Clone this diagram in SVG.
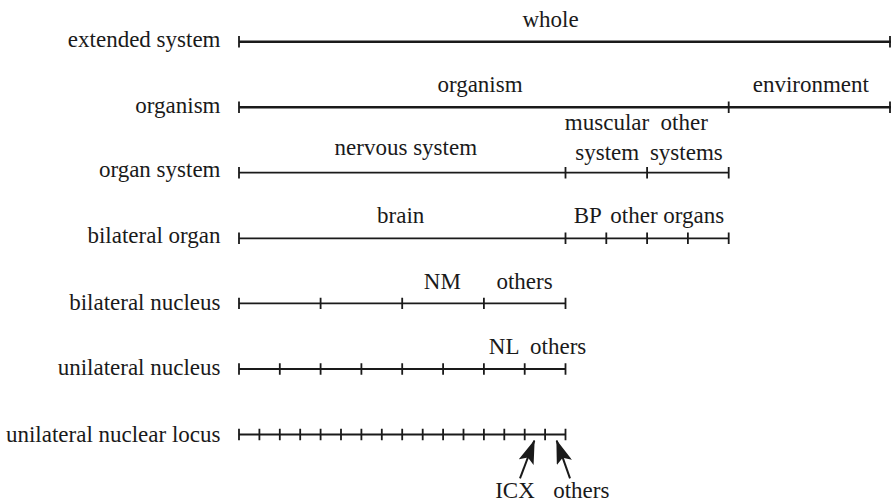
<svg xmlns="http://www.w3.org/2000/svg" width="891" height="503" viewBox="0 0 891 503">
<style>
text{font-family:"Liberation Serif","Times New Roman",serif;font-size:23px;fill:#1a1a1a}
.lab{text-anchor:end}
.c{text-anchor:middle}
.thick{stroke:#1a1a1a;stroke-width:2.4;fill:none}
.thin{stroke:#1a1a1a;stroke-width:1.8;fill:none}
.tk{stroke:#1a1a1a;stroke-width:1.8;fill:none}
.arr{stroke:#1a1a1a;stroke-width:2;fill:none}
</style>
<defs>
<marker id="ah" markerUnits="userSpaceOnUse" viewBox="0 0 24 16" refX="23" refY="8" markerWidth="24" markerHeight="16" orient="auto">
<path d="M0,0 L24,8 L0,16 L5,8 z" fill="#1a1a1a"/>
</marker>
</defs>
<rect width="891" height="503" fill="#fff"/>

<g id="row-extended-system">
<text class="lab" x="220.5" y="46.7">extended system</text>
<path class="thick" d="M239,41.7 H891"/>
<path class="tk" d="M239,36 V47.4 M890,36 V47.4"/>
<text class="c" x="550.5" y="27.3">whole</text>
</g>

<g id="row-organism">
<text class="lab" x="220.5" y="112.5">organism</text>
<path class="thick" d="M239,107.3 H891"/>
<path class="tk" d="M239,101.6 V113 M728.7,101.6 V113 M890,101.6 V113"/>
<text class="c" x="480" y="91.7">organism</text>
<text class="c" x="810.8" y="91.7">environment</text>
</g>

<g id="row-organ-system">
<text class="lab" x="220.5" y="176.7">organ system</text>
<path class="thin" d="M239,172.7 H728.7"/>
<path class="tk" d="M239,167 V178.4 M565.5,167 V178.4 M647.1,167 V178.4 M728.7,167 V178.4"/>
<text class="c" x="405.8" y="155">nervous system</text>
<text class="c" x="607" y="130">muscular</text>
<text class="c" x="607.2" y="160">system</text>
<text class="c" x="684.2" y="130">other</text>
<text class="c" x="686.3" y="160">systems</text>
</g>

<g id="row-bilateral-organ">
<text class="lab" x="220.5" y="242.6">bilateral organ</text>
<path class="thin" d="M239,238.3 H728.7"/>
<path class="tk" d="M239,232.6 V244 M565.5,232.6 V244 M606.3,232.6 V244 M647.1,232.6 V244 M687.9,232.6 V244 M728.7,232.6 V244"/>
<text class="c" x="400.7" y="223.3">brain</text>
<text class="c" x="587.7" y="223.3">BP</text>
<text class="c" x="667.3" y="223.3">other organs</text>
</g>

<g id="row-bilateral-nucleus">
<text class="lab" x="220.5" y="310.3">bilateral nucleus</text>
<path class="thin" d="M239,303.4 H565.5"/>
<path class="tk" d="M239,297.7 V309.1 M320.6,297.7 V309.1 M402.2,297.7 V309.1 M483.9,297.7 V309.1 M565.5,297.7 V309.1"/>
<text class="c" x="442.3" y="289">NM</text>
<text class="c" x="524.5" y="289">others</text>
</g>

<g id="row-unilateral-nucleus">
<text class="lab" x="220.5" y="375.3">unilateral nucleus</text>
<path class="thin" d="M239,369 H565.5"/>
<path class="tk" d="M239,363.3 V374.7 M279.8,363.3 V374.7 M320.6,363.3 V374.7 M361.4,363.3 V374.7 M402.2,363.3 V374.7 M443.1,363.3 V374.7 M483.9,363.3 V374.7 M524.7,363.3 V374.7 M565.5,363.3 V374.7"/>
<text class="c" x="504.2" y="354">NL</text>
<text class="c" x="558.2" y="354">others</text>
</g>

<g id="row-unilateral-nuclear-locus">
<text class="lab" x="220.5" y="441.5">unilateral nuclear locus</text>
<path class="thin" d="M239,434.5 H565.5"/>
<path class="tk" d="M239,428.8 V440.2 M259.4,428.8 V440.2 M279.8,428.8 V440.2 M300.2,428.8 V440.2 M320.6,428.8 V440.2 M341,428.8 V440.2 M361.4,428.8 V440.2 M381.8,428.8 V440.2 M402.2,428.8 V440.2 M422.7,428.8 V440.2 M443.1,428.8 V440.2 M463.5,428.8 V440.2 M483.9,428.8 V440.2 M504.3,428.8 V440.2 M524.7,428.8 V440.2 M545.1,428.8 V440.2 M565.5,428.8 V440.2"/>
<text class="c" x="515" y="498.3">ICX</text>
<text class="c" x="581.3" y="498.3">others</text>
</g>

<g id="connectors">
<path class="arr" d="M520,478.3 L534.3,440.7" marker-end="url(#ah)"/>
<path class="arr" d="M570,478.3 L556.7,440.7" marker-end="url(#ah)"/>
</g>
</svg>
